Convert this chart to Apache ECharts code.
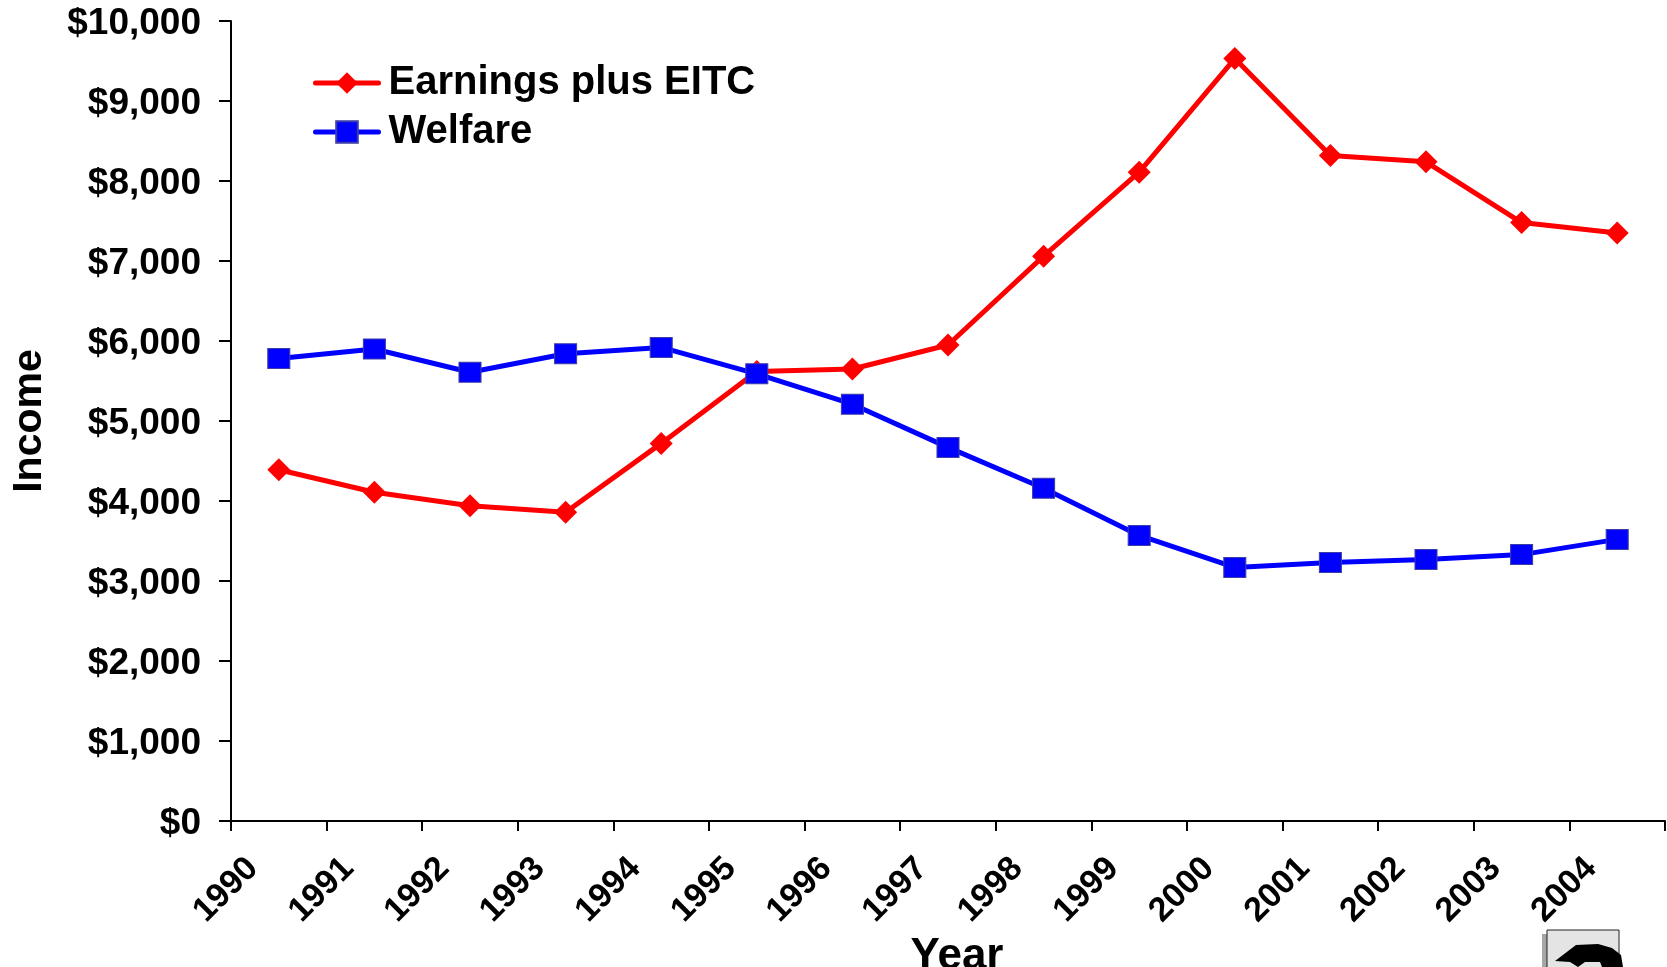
<!DOCTYPE html>
<html><head><meta charset="utf-8">
<style>html,body{margin:0;padding:0;background:#fff;overflow:hidden}#c{width:1667px;height:967px}</style>
<script src="https://cdn.jsdelivr.net/npm/echarts@6/dist/echarts.min.js"></script>
</head><body><div id="c"></div>
<script>
const categories=['1990','1991','1992','1993','1994','1995','1996','1997','1998','1999','2000','2001','2002','2003','2004'];
const tickLabels=[...categories,''];
const earnings=[4390,4110,3940,3860,4720,5620,5650,5950,7060,8110,9530,8320,8240,7480,7350];
const welfare=[5780,5900,5610,5840,5920,5590,5210,4670,4160,3570,3170,3230,3270,3330,3520];
const font='"Liberation Sans"';
const chart=echarts.init(document.getElementById('c'));
chart.setOption({
 animation:false,
 grid:{left:231,top:21,width:1434,height:800,containLabel:false,outerBoundsMode:'none'},
 legend:{left:308,top:58,orient:'vertical',itemGap:9,itemWidth:63,itemHeight:27,
  textStyle:{fontFamily:font,fontWeight:'bold',fontSize:40,color:'#000',padding:[0,0,0,5]},
  lineStyle:{width:5,cap:'round'},
  data:['Earnings plus EITC','Welfare']},
 xAxis:[
  {type:'category',boundaryGap:true,data:categories,position:'bottom',
   name:'Year',nameLocation:'middle',nameGap:114,
   nameTextStyle:{fontFamily:font,fontWeight:'bold',fontSize:44,color:'#000',padding:[0,0,0,18]},
   axisLine:{lineStyle:{color:'#000',width:2}},
   axisTick:{show:true,interval:0,alignWithLabel:false,length:10,lineStyle:{color:'#000',width:2}},
   axisLabel:{show:false}},
  {type:'category',boundaryGap:false,data:tickLabels,position:'bottom',
   axisLine:{show:false},axisTick:{show:false},
   axisLabel:{rotate:45,interval:0,align:'center',verticalAlign:'middle',padding:[0,14,0,0],
    fontFamily:font,fontWeight:'bold',fontSize:34,color:'#000',margin:64,hideOverlap:false}}
 ],
 yAxis:{type:'value',min:0,max:10000,interval:1000,
  name:'Income',nameLocation:'middle',nameGap:181,
  nameTextStyle:{fontFamily:font,fontWeight:'bold',fontSize:41,color:'#000'},
  splitLine:{show:false},
  axisLine:{show:true,lineStyle:{color:'#000',width:2}},
  axisTick:{show:true,length:12,lineStyle:{color:'#000',width:2}},
  axisLabel:{margin:30,verticalAlign:'middle',
   rich:{t:{fontFamily:font,fontWeight:'bold',fontSize:37,color:'#000',padding:[6,0,0,0]}},
   formatter:v=>'{t|$'+v.toLocaleString('en-US')+'}'}},
 series:[
  {name:'Earnings plus EITC',type:'line',data:earnings,symbol:'diamond',symbolSize:23,
   lineStyle:{color:'#ff0000',width:5},itemStyle:{color:'#ff0000'}},
  {name:'Welfare',type:'line',data:welfare,symbol:'rect',symbolSize:[22,20],
   lineStyle:{color:'#0000ff',width:5},itemStyle:{color:'#0000ff',borderColor:'#3d3da8',borderWidth:1}}
 ],
 graphic:[
  {type:'rect',silent:true,shape:{x:1542,y:934,width:6,height:33},style:{fill:'#a6a6a6'}},
  {type:'rect',silent:true,shape:{x:1547,y:930,width:72,height:40},style:{fill:'#e4e4e4',stroke:'#222',lineWidth:1}},
  {type:'polygon',silent:true,shape:{points:[[1555,961],[1576,945],[1598,944],[1612,948],[1621,955],[1623,967],[1602,967],[1600,962],[1585,962],[1578,967],[1570,962]]},style:{fill:'#000'}}
 ]
});
</script></body></html>
